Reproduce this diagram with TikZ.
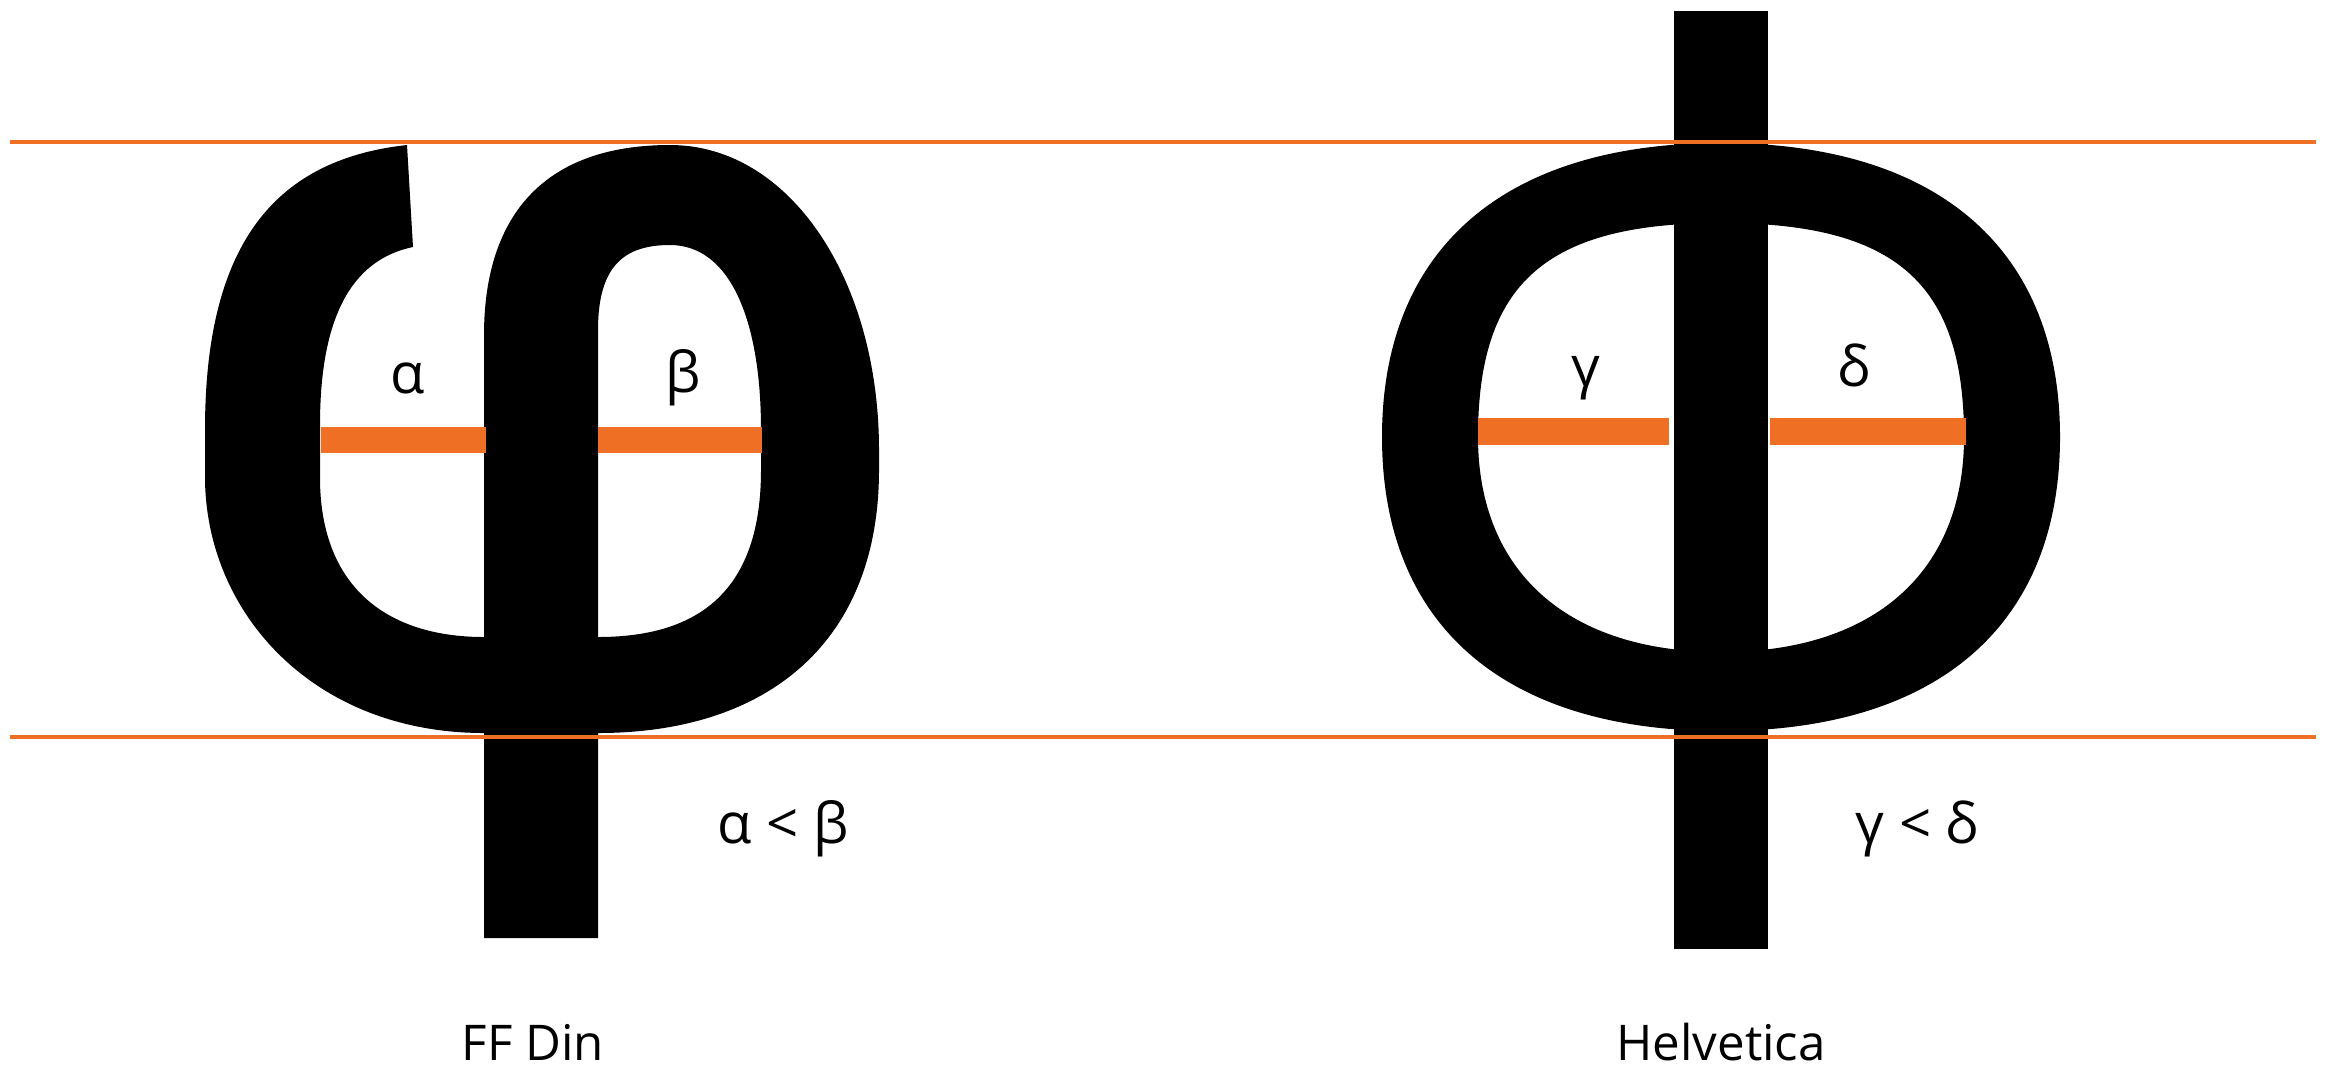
\documentclass[tikz,border=0pt]{standalone}
\usepackage{fontspec}
\setmainfont{Open Sans}
\usepackage{xcolor}
\definecolor{guideOrange}{HTML}{EF6F24}
\tikzset{
  glyphfill/.style={fill=black, draw=none},
  guideline/.style={draw=guideOrange, line width=0.4mm},
  widthbar/.style={fill=guideOrange, draw=none},
  glyphlabel/.style={font=\fontsize{16}{19}\selectfont, anchor=base, inner sep=0pt},
  fontname/.style={font=\fontsize{14}{17}\selectfont, anchor=base, inner sep=0pt},
}
\begin{document}
\begin{tikzpicture}[x=0.1mm,y=-0.1mm]
  \useasboundingbox (0,0) rectangle (2328,1072);

  % --- FF Din phi ---
  \fill[glyphfill, even odd rule]
    (407,145) .. controls (270,160) and (205,250) .. (205,430)
    -- (205,480) .. controls (207,615) and (315,733) .. (484,733)
    -- (484,938) -- (598,938) -- (598,733)
    .. controls (770,733) and (879,640) .. (879,470)
    -- (879,450) .. controls (879,280) and (790,145) .. (670,145)
    .. controls (540,145) and (484,220) .. (484,335)
    -- (484,637) .. controls (390,637) and (322,590) .. (320,482)
    -- (320,425) .. controls (320,320) and (350,260) .. (413,247)
    -- cycle
    (598,637) -- (598,330) .. controls (598,265) and (625,245) .. (670,245)
    .. controls (730,245) and (761,320) .. (761,430)
    -- (761,470) .. controls (761,590) and (700,637) .. (598,637) -- cycle;

  % --- Helvetica Phi ---
  \fill[glyphfill, even odd rule]
    (1721,143) .. controls (1504,143) and (1382,249) .. (1382,437)
    .. controls (1382,625) and (1504,731) .. (1721,731)
    .. controls (1938,731) and (2060,625) .. (2060,437)
    .. controls (2060,249) and (1938,143) .. (1721,143) -- cycle
    (1721,223) .. controls (1546,223) and (1478,283) .. (1478,437)
    .. controls (1478,572) and (1568,652) .. (1721,652)
    .. controls (1874,652) and (1964,572) .. (1964,437)
    .. controls (1964,283) and (1896,223) .. (1721,223) -- cycle;
  \fill[glyphfill] (1674,11) rectangle (1768,949);

  % counter widths
  \fill[widthbar] (321,427) rectangle (486,453);
  \fill[widthbar] (598,427) rectangle (762,453);
  \fill[widthbar] (1478,418) rectangle (1669,445);
  \fill[widthbar] (1770,418) rectangle (1966,445);

  % guide lines
  \draw[guideline] (10,142) -- (2316,142);
  \draw[guideline] (10,737) -- (2316,737);

  \node[glyphlabel] (alpha) at (408,393) {α};
  \node[glyphlabel] (beta) at (683,392) {β};
  \node[glyphlabel] (gamma) at (1586,386) {γ};
  \node[glyphlabel] (delta) at (1854,386) {δ};
  \node[glyphlabel, anchor=base west] (dinrel) at (717,843) {α < β};
  \node[glyphlabel, anchor=base west] (helvrel) at (1855,843) {γ < δ};

  \node[fontname] (dinname) at (533,1060) {FF Din};
  \node[fontname] (helvname) at (1721,1060) {Helvetica};
\end{tikzpicture}
\end{document}
